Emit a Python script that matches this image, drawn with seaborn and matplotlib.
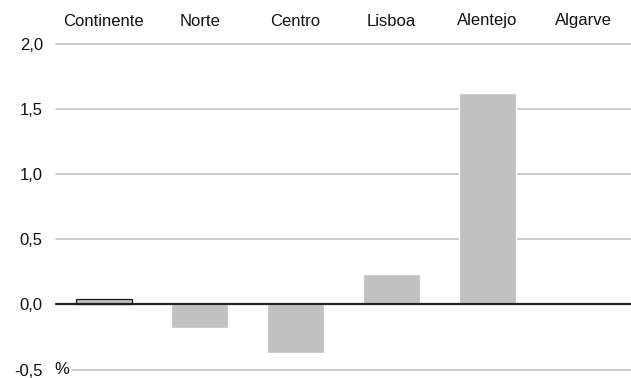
import matplotlib
matplotlib.use("Agg")
import matplotlib.pyplot as plt
from matplotlib.transforms import blended_transform_factory
import seaborn as sns
import pandas as pd

# Regional values (%)
regions = ["Continente", "Norte", "Centro", "Lisboa", "Alentejo", "Algarve"]
values = [0.04, -0.18, -0.37, 0.23, 1.62, 0.0]
y_ticks = [-0.5, 0.0, 0.5, 1.0, 1.5, 2.0]
y_tick_labels = ["-0,5", "0,0", "0,5", "1,0", "1,5", "2,0"]

sns.set_theme(style="white")
plt.rcParams["font.family"] = ["Liberation Sans", "DejaVu Sans"]

W, H = 631, 378
FS = 12
df = pd.DataFrame({"region": regions, "value": values})

fig = plt.figure(figsize=(W / 100, H / 100), dpi=100)
ax = fig.add_axes([56 / W, 1 - 369.5 / H, 1 - 56 / W, (369.5 - 44) / H])

sns.barplot(data=df, x="region", y="value", color="#c0c0c0", saturation=1,
            width=0.59, ax=ax, zorder=3)

# First bar (Continente) outlined
ax.patches[0].set_edgecolor("#1a1a1a")
ax.patches[0].set_linewidth(0.9)

ax.set_xlim(-0.5, 5.5)
ax.set_ylim(-0.5, 2.0)

# Horizontal gridlines
for yv in y_ticks:
    if yv == 0.0:
        continue
    ax.axhline(yv, color="#c4c4c4", linewidth=1.2, zorder=1, clip_on=False)
ax.axhline(0.0, color="#222222", linewidth=1.6, zorder=4, clip_on=False)

ax.set_yticks(y_ticks)
ax.set_yticklabels(y_tick_labels)
ax.tick_params(axis="y", length=0, pad=9.5, labelsize=FS, labelcolor="#111111")

# Category names in a header row above the plot, centred on each bar
ax.set_xticks([])
ax.set_xlabel("")
ax.set_ylabel("")
hdr = blended_transform_factory(ax.transData, fig.transFigure)
for i, name in enumerate(regions):
    ax.text(i, 1 - 21 / H, name, transform=hdr, ha="center", va="center",
            fontsize=FS, color="#111111")

for s in ax.spines.values():
    s.set_visible(False)

# Unit label beside the lowest tick
tr = blended_transform_factory(fig.transFigure, ax.transData)
ax.text(61.5 / W, -0.5, "%", ha="center", va="center", fontsize=FS, color="#111111",
        transform=tr, zorder=5, bbox=dict(facecolor="white", edgecolor="none", pad=2.5))

fig.savefig("out.png", dpi=100)
